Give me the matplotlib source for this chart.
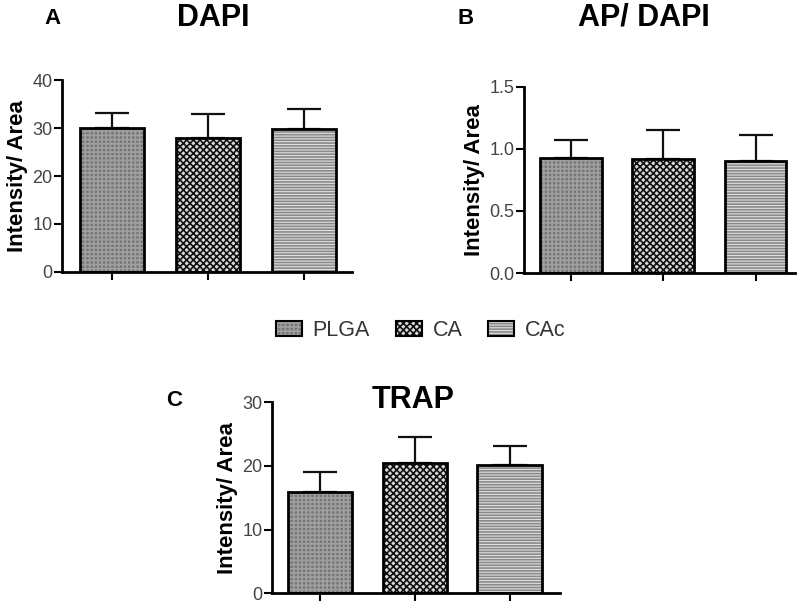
import matplotlib
matplotlib.use("Agg")
import matplotlib.pyplot as plt
from matplotlib.patches import Patch
from matplotlib.colors import to_rgba

plt.rcParams['font.family'] = ['Liberation Sans', 'DejaVu Sans']
plt.rcParams['hatch.linewidth'] = 1.2

groups = ['PLGA', 'CA', 'CAc']
dapi_mean = [30.0, 27.9, 29.8]
dapi_err = [3.1, 5.0, 4.2]
apdapi_mean = [0.93, 0.92, 0.90]
apdapi_err = [0.14, 0.23, 0.21]
trap_mean = [15.9, 20.4, 20.1]
trap_err = [3.1, 4.1, 3.1]

face = ['#767676', '#d8d8d8', '#e0e0e0']
hatches = ['++++', 'xxxxx', '------']
hcol = ['#a0a0a0', '#111111', '#8a8a8a']

fig = plt.figure(figsize=(8, 6.04), dpi=100)

def panel(rect, means, errs, ylim, yticks, yfmt, title, title_xy, letter, letter_xy, xlim, width):
    ax = fig.add_axes(rect)
    x = list(range(len(means)))
    bars = ax.bar(x, means, width=width, color=face, edgecolor='black', linewidth=2.0, zorder=2)
    for b, h, hc in zip(bars, hatches, hcol):
        b.set_hatch(h)
        b._hatch_color = to_rgba(hc)
    ax.errorbar(x, means, yerr=[[0] * len(errs), errs], fmt='none', ecolor='#111111',
                elinewidth=1.6, capsize=12, capthick=1.6, zorder=1)
    ax.set_ylim(*ylim)
    ax.set_xlim(*xlim)
    ax.set_yticks(yticks)
    ax.set_yticklabels([yfmt.format(v) for v in yticks])
    ax.set_xticks(x)
    ax.set_xticklabels([])
    for s in ['top', 'right']:
        ax.spines[s].set_visible(False)
    for s in ['left', 'bottom']:
        ax.spines[s].set_linewidth(2.0)
    ax.tick_params(axis='y', direction='out', length=6, width=1.5, labelsize=13,
                   labelcolor='#444444', pad=1)
    ax.tick_params(axis='x', direction='out', length=6, width=1.5)
    ax.set_ylabel('Intensity/ Area', fontsize=16, fontweight='bold', labelpad=3)
    fig.text(title_xy[0], title_xy[1], title, fontsize=22, fontweight='bold',
             ha='center', va='center')
    fig.text(letter_xy[0], letter_xy[1], letter, fontsize=16, fontweight='bold',
             ha='center', va='center')
    return ax

panel([0.0775, 0.5497, 0.3625, 0.3178], dapi_mean, dapi_err, (0, 40), [0, 10, 20, 30, 40],
      '{:.0f}', 'DAPI', (0.266, 0.971), 'A', (0.066, 0.969), (-0.52, 2.5), 0.66)
panel([0.655, 0.548, 0.339, 0.308], apdapi_mean, apdapi_err, (0, 1.5), [0.0, 0.5, 1.0, 1.5],
      '{:.1f}', 'AP/ DAPI', (0.805, 0.971), 'B', (0.5825, 0.969), (-0.51, 2.43), 0.67)
panel([0.34, 0.018, 0.36, 0.316], trap_mean, trap_err, (0, 30), [0, 10, 20, 30],
      '{:.0f}', 'TRAP', (0.516, 0.338), 'C', (0.218, 0.337), (-0.505, 2.53), 0.68)

handles = []
for f, h, hc in zip(face, hatches, hcol):
    p = Patch(facecolor=f, edgecolor='black', linewidth=1.5, hatch=h)
    p._hatch_color = to_rgba(hc)
    handles.append(p)
leg = fig.legend(handles, groups, loc='center', bbox_to_anchor=(0.526, 0.453), ncol=3,
                 frameon=False, fontsize=15.5, handlelength=1.2, handleheight=0.7,
                 columnspacing=1.2, handletextpad=0.5)
for t in leg.get_texts():
    t.set_color('#333333')

fig.savefig('out.png', dpi=100)
